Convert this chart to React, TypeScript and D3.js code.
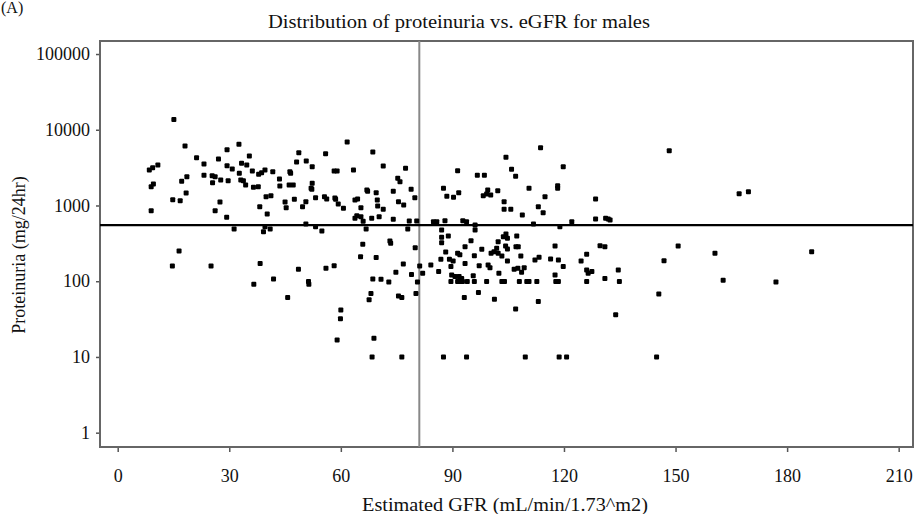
import { useRef, useEffect } from "react";
import * as d3 from "d3";

// [eGFR, proteinuria mg/24hr], grouped by eGFR band
const lowGfr: [number, number][] = [
  [15.1, 13700], [18.1, 6100], [8.5, 2940], [9.4, 3150], [10.8, 3420], [9.0, 1770], [9.6, 1920],
  [9.0, 853], [14.8, 1190], [16.8, 1156], [17.2, 2085], [18.6, 2400], [18.4, 1460], [21.2, 4280],
  [23.2, 3530], [23.2, 2500], [25.4, 2470], [26.2, 2400], [25.5, 2000], [27.1, 4110], [27.7, 2170],
  [29.4, 5450], [29.4, 3350], [29.7, 2120], [30.8, 3030], [32.6, 6430], [32.7, 2660], [33.3, 3600],
  [33.1, 2170], [33.8, 2120], [34.7, 3420], [34.4, 1860], [35.4, 4500], [36.2, 2850], [36.5, 1740],
  [37.8, 1770], [37.9, 2580], [38.7, 2710], [39.6, 2940], [41.7, 2790], [43.5, 2240], [43.6, 1810],
  [39.9, 1306], [41.2, 1346], [38.2, 964], [40.2, 772], [45.0, 1110], [45.3, 935], [46.3, 2790],
  [46.5, 2660], [46.1, 1860], [47.2, 1860], [47.5, 1207], [48.1, 3750], [48.7, 4980], [26.2, 853],
  [27.5, 1110], [29.3, 698], [31.3, 489], [39.2, 451], [39.6, 525], [41.0, 489],
  [16.5, 250], [14.7, 159], [25.1, 159], [38.3, 172], [36.6, 91], [41.9, 107], [45.7, 61],
  [48.6, 144], [49.7, 964],
];

const midGfr: [number, number][] = [
  [61.7, 6890], [50.7, 3870], [52.3, 3250], [55.9, 4830], [68.6, 5080], [58.2, 2850], [59.0, 2850],
  [63.4, 2940], [71.4, 3320], [77.4, 3100], [52.3, 1960], [52.0, 1690], [52.2, 1635], [75.3, 2285],
  [75.9, 2060], [67.0, 1600], [67.2, 1540], [69.5, 1475], [74.1, 1540], [78.9, 1635], [79.9, 1267],
  [53.2, 1267], [55.6, 1306], [56.2, 1218], [58.4, 1260], [58.6, 1207], [50.6, 1122], [59.3, 1047],
  [60.7, 918], [63.8, 1180], [64.5, 1218], [65.4, 935], [69.8, 1180], [69.9, 985], [71.4, 891],
  [75.5, 1122], [76.9, 1015], [63.8, 678], [64.3, 733], [65.4, 711], [66.0, 618], [68.3, 678],
  [70.3, 711], [74.1, 657], [78.4, 624], [80.4, 624],
  [50.6, 570], [53.2, 525], [54.9, 460], [66.8, 489], [78.0, 489], [65.9, 307], [73.2, 340],
  [73.4, 317], [80.0, 277], [65.3, 211], [69.5, 205], [56.0, 148], [58.2, 160], [51.3, 99],
  [51.4, 91], [68.6, 107], [70.8, 106], [72.9, 98], [74.8, 131], [76.8, 169], [79.0, 123],
  [81.2, 159], [82.0, 127], [80.6, 98], [68.1, 69], [67.6, 57], [75.5, 64], [76.4, 61], [80.2, 69],
  [60.0, 41.7], [59.9, 32], [59.0, 16.7], [68.9, 17.6], [68.4, 10], [76.4, 10],
];

const highGfr: [number, number][] = [
  [113.7, 5790], [104.4, 4330], [105.9, 3000], [107.0, 2430], [91.4, 2880], [119.8, 3250],
  [96.7, 2500], [98.6, 2500], [87.6, 1690], [88.5, 1322], [90.3, 1283], [91.7, 1475], [98.3, 1346],
  [99.2, 1418], [99.5, 1600], [100.3, 1375], [102.2, 1567], [110.6, 1690], [114.9, 1306],
  [118.3, 1824], [118.3, 1690], [103.9, 1122], [103.9, 891], [105.7, 891], [108.8, 748],
  [113.1, 964], [114.4, 804], [128.5, 1218], [128.5, 663], [84.9, 611], [85.8, 611], [88.0, 630],
  [92.8, 630], [93.8, 611], [96.1, 552], [111.8, 570], [118.9, 525], [122.1, 611],
  [84.2, 164], [86.3, 134], [87.1, 475], [87.1, 380], [87.1, 323], [88.9, 395], [96.1, 475],
  [95.0, 343], [93.4, 286], [88.2, 243], [86.9, 195], [89.2, 195], [90.2, 185], [89.6, 156],
  [91.4, 234], [92.0, 224], [93.4, 172], [95.9, 217], [97.9, 264], [97.2, 160], [99.6, 164],
  [100.1, 151], [100.4, 234], [101.2, 245], [101.9, 272], [102.3, 234], [103.3, 215], [102.3, 333],
  [103.7, 387], [104.4, 420], [104.8, 369], [104.3, 292], [104.8, 266], [107.3, 395], [107.1, 286],
  [107.7, 286], [108.4, 215], [104.8, 185], [102.5, 127], [106.6, 144], [107.6, 148], [108.6, 131],
  [109.3, 151], [112.2, 191], [113.3, 207], [116.4, 196], [117.6, 292], [118.5, 191], [119.8, 156],
  [117.6, 121], [124.6, 185], [126.1, 227], [126.1, 141], [126.5, 127], [127.5, 134], [129.7, 294],
  [89.6, 99], [91.4, 99], [92.0, 99], [92.7, 99], [94.0, 99], [95.9, 99], [99.2, 99], [103.3, 99],
  [104.0, 99], [108.0, 99], [110.0, 99], [110.6, 99], [112.7, 99], [117.8, 99], [118.5, 99],
  [126.1, 99], [89.8, 121], [90.7, 115], [91.8, 115], [92.5, 109], [95.6, 118], [93.2, 61],
  [97.0, 71], [101.3, 58], [107.0, 43], [113.1, 54], [87.6, 10], [93.8, 10], [109.6, 10],
  [118.7, 10], [120.7, 10],
];

const farGfr: [number, number][] = [
  [148.3, 5290], [167.1, 1431], [169.6, 1522], [131.2, 678], [131.9, 663], [132.4, 643],
  [131.0, 286], [150.7, 292], [160.6, 234], [186.6, 245], [146.9, 187], [134.6, 141], [134.9, 99],
  [131.0, 109], [162.8, 103], [177.0, 98], [145.5, 68], [133.9, 36], [144.9, 10],
];

const xTicks = [0, 30, 60, 90, 120, 150, 180, 210];
const yTicks = [1, 10, 100, 1000, 10000, 100000];
const gfrCut = 81.1;
const proteinuriaCut = 552;

export default function App() {
  const ref = useRef<SVGSVGElement>(null);

  useEffect(() => {
    const svg = d3.select(ref.current);
    svg.selectAll("*").remove();

    const W = 915;
    const H = 514;
    const left = 100;
    const right = 913;
    const top = 41;
    const bottom = 447;
    const font = "'Liberation Serif', 'Times New Roman', serif";

    const x = d3.scaleLinear().domain([-4.76, 213.85]).range([left, right]);
    const y = d3.scaleLog().domain([0.647, 148600]).range([bottom, top]);

    svg.append("rect").attr("width", W).attr("height", H).attr("fill", "#fff");

    // panel letter
    svg
      .append("text")
      .attr("x", 1)
      .attr("y", 13)
      .attr("font-family", font)
      .attr("font-size", 16)
      .attr("fill", "#111")
      .text("(A)");

    svg
      .append("text")
      .attr("x", 459)
      .attr("y", 28)
      .attr("text-anchor", "middle")
      .attr("font-family", font)
      .attr("font-size", 19)
      .attr("textLength", 382)
      .attr("lengthAdjust", "spacingAndGlyphs")
      .attr("fill", "#111")
      .text("Distribution of proteinuria vs. eGFR for males");

    // y axis
    const yAxis = svg
      .append("g")
      .attr("transform", `translate(${left},0)`)
      .call(
        d3
          .axisLeft(y)
          .tickValues(yTicks)
          .tickFormat(d3.format("d"))
          .tickSize(4)
          .tickPadding(6)
      );
    yAxis.select(".domain").remove();
    yAxis.selectAll("line").attr("stroke", "#555").attr("stroke-width", 1.5);
    yAxis
      .selectAll("text")
      .attr("font-family", font)
      .attr("font-size", 18)
      .attr("fill", "#111");

    // x axis
    const xAxis = svg
      .append("g")
      .attr("transform", `translate(0,${bottom})`)
      .call(d3.axisBottom(x).tickValues(xTicks).tickSize(5).tickPadding(17));
    xAxis.select(".domain").remove();
    xAxis.selectAll("line").attr("stroke", "#555").attr("stroke-width", 1.5);
    xAxis
      .selectAll("text")
      .attr("font-family", font)
      .attr("font-size", 18)
      .attr("fill", "#111");

    // frame
    svg
      .append("rect")
      .attr("x", left)
      .attr("y", top)
      .attr("width", right - left)
      .attr("height", bottom - top)
      .attr("fill", "none")
      .attr("stroke", "#666")
      .attr("stroke-width", 2);

    // reference lines
    svg
      .append("line")
      .attr("x1", x(gfrCut))
      .attr("x2", x(gfrCut))
      .attr("y1", top)
      .attr("y2", bottom)
      .attr("stroke", "#888")
      .attr("stroke-width", 2);

    const data = [...lowGfr, ...midGfr, ...highGfr, ...farGfr];
    const s = 5;
    svg
      .append("g")
      .selectAll("rect")
      .data(data)
      .join("rect")
      .attr("x", (d) => x(d[0]) - s / 2)
      .attr("y", (d) => y(d[1]) - s / 2)
      .attr("width", s)
      .attr("height", s)
      .attr("rx", 1)
      .attr("fill", "#000");

    svg
      .append("line")
      .attr("x1", left)
      .attr("x2", right)
      .attr("y1", y(proteinuriaCut))
      .attr("y2", y(proteinuriaCut))
      .attr("stroke", "#000")
      .attr("stroke-width", 2.2);

    // axis titles
    svg
      .append("text")
      .attr("x", 505)
      .attr("y", 511)
      .attr("text-anchor", "middle")
      .attr("font-family", font)
      .attr("font-size", 18)
      .attr("textLength", 286)
      .attr("lengthAdjust", "spacingAndGlyphs")
      .attr("fill", "#111")
      .text("Estimated GFR (mL/min/1.73^m2)");

    svg
      .append("text")
      .attr("transform", `translate(25,255) rotate(-90)`)
      .attr("text-anchor", "middle")
      .attr("font-family", font)
      .attr("font-size", 18)
      .attr("fill", "#111")
      .text("Proteinuria (mg/24hr)");
  }, []);

  return (
    <svg
      ref={ref}
      width={915}
      height={514}
      style={{ position: "absolute", left: 0, top: 0, display: "block" }}
    />
  );
}
